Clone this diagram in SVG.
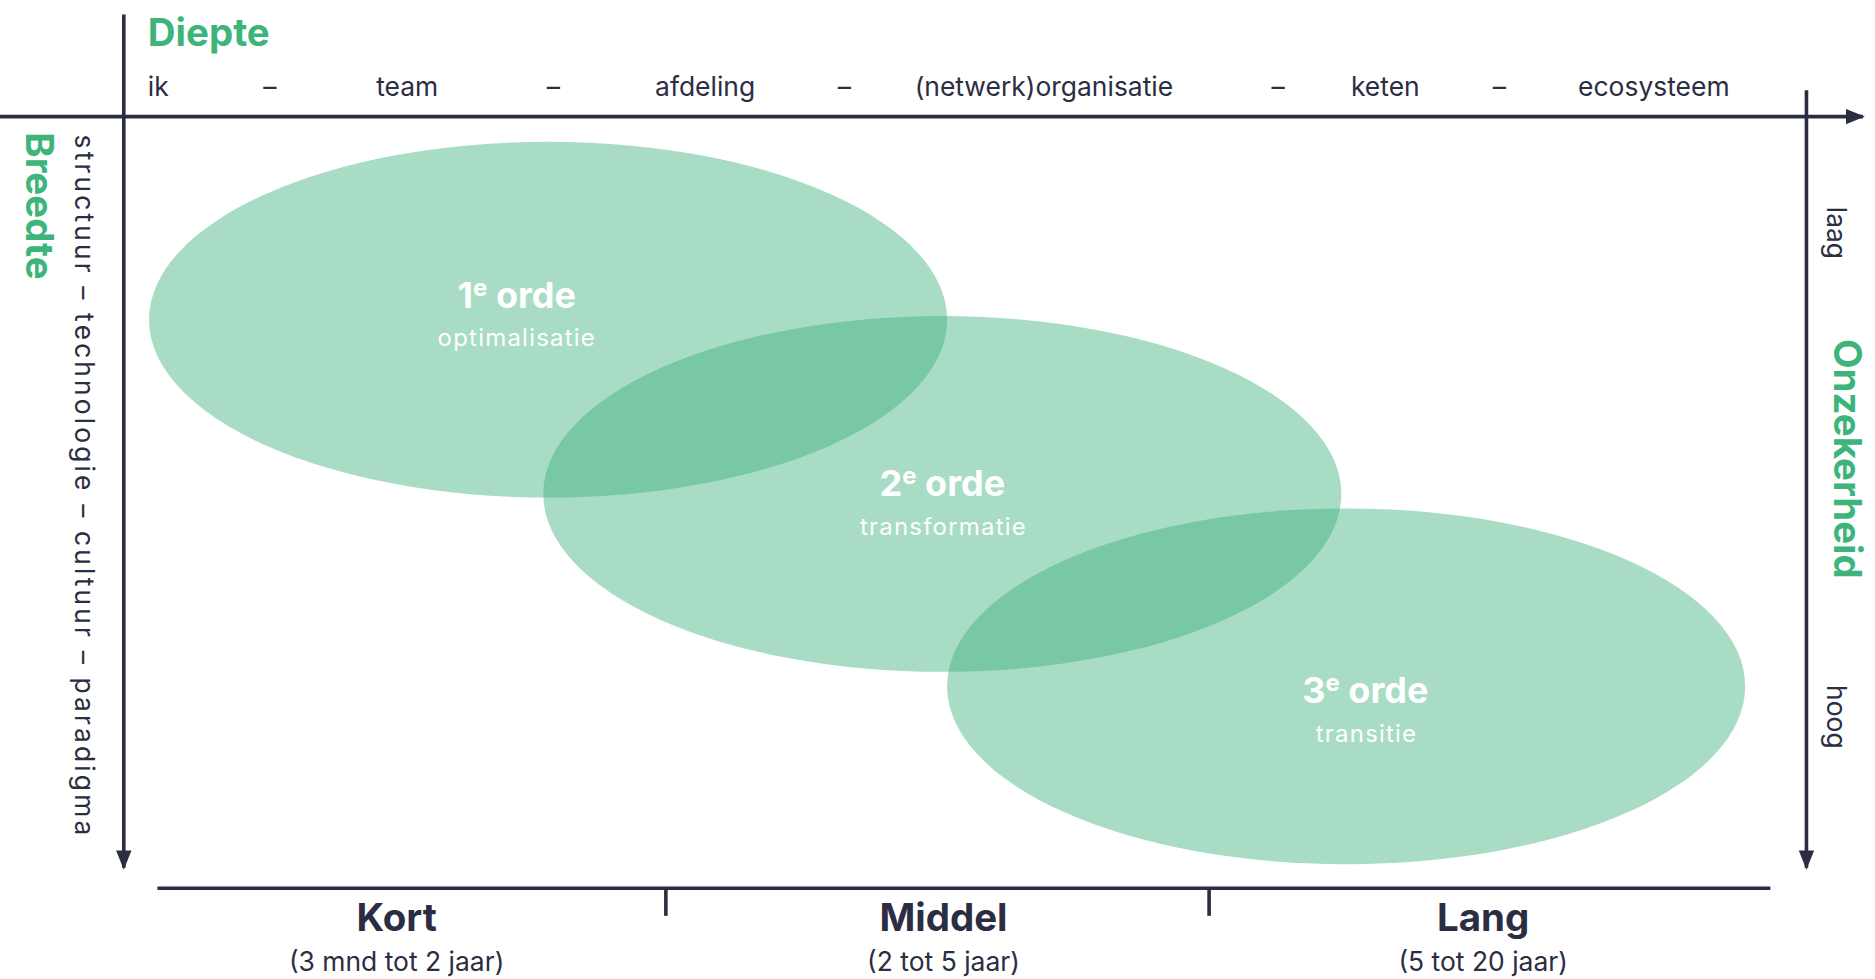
<svg xmlns="http://www.w3.org/2000/svg" width="1875" height="979" viewBox="0 0 1875 979">
<defs>
<style>
.ax{stroke:#2b2d42;stroke-width:3;fill:none}
.el{fill:#3eb17c;fill-opacity:0.45}
.t{font-family:Inter,"Noto Sans",sans-serif;fill:#2b2d42;font-size:22px}
.g{font-family:Inter,"Noto Sans",sans-serif;fill:#3db57a;font-size:32px;font-weight:700}
.w1{font-family:Inter,"Noto Sans",sans-serif;fill:#fff;font-size:30px;font-weight:700;text-anchor:middle}
.w2{font-family:Inter,"Noto Sans",sans-serif;fill:#fff;font-size:20px;letter-spacing:1px;text-anchor:middle}
.b1{font-family:Inter,"Noto Sans",sans-serif;fill:#2b2d42;font-size:32px;font-weight:700;text-anchor:middle}
.b2{font-family:Inter,"Noto Sans",sans-serif;fill:#2b2d42;font-size:22px;text-anchor:middle}
</style>
<marker id="ar" viewBox="0 0 10 10" refX="9" refY="5" markerWidth="6" markerHeight="6" orient="auto" markerUnits="userSpaceOnUse"><path d="M0,0 L10,5 L0,10 z" fill="#2b2d42"/></marker>
<marker id="arr" viewBox="0 0 10 10" refX="9" refY="5" markerWidth="16" markerHeight="16" orient="auto" markerUnits="userSpaceOnUse"><path d="M0,1 L10,5 L0,9 z" fill="#2b2d42"/></marker>
</defs>
<rect width="1875" height="979" fill="#fff"/>
<g transform="scale(1.2019)">
<g id="ellipses">
<g id="e1"><ellipse class="el" cx="456" cy="266" rx="332" ry="148"/><text class="w1" x="430" y="256">1<tspan font-size="20" dy="-10">e</tspan><tspan dy="10"> orde</tspan></text><text class="w2" x="430" y="288">optimalisatie</text></g>
<g id="e2"><ellipse class="el" cx="784" cy="411" rx="332" ry="148"/><text class="w1" x="784" y="413">2<tspan font-size="20" dy="-10">e</tspan><tspan dy="10"> orde</tspan></text><text class="w2" x="785" y="445">transformatie</text></g>
<g id="e3"><ellipse class="el" cx="1120" cy="571" rx="332" ry="148"/><text class="w1" x="1136" y="585">3<tspan font-size="20" dy="-10">e</tspan><tspan dy="10"> orde</tspan></text><text class="w2" x="1137" y="617">transitie</text></g>
</g>
<g id="connectors">
<line class="ax" x1="103" y1="12" x2="103" y2="722" marker-end="url(#arr)"/>
<line class="ax" x1="0" y1="97" x2="1550" y2="97" marker-end="url(#arr)"/>
<line class="ax" x1="1503" y1="75" x2="1503" y2="722" marker-end="url(#arr)"/>
<line class="ax" x1="131" y1="739" x2="1473" y2="739"/>
<line class="ax" x1="554" y1="739" x2="554" y2="762"/>
<line class="ax" x1="1006" y1="739" x2="1006" y2="762"/>
</g>
<g id="top-labels">
<text class="g" x="123" y="38">Diepte</text>
<text class="t" x="123" y="80">ik</text>
<text class="t" x="219" y="80">–</text>
<text class="t" x="313" y="80">team</text>
<text class="t" x="455" y="80">–</text>
<text class="t" x="545" y="80">afdeling</text>
<text class="t" x="697" y="80">–</text>
<text class="t" x="761" y="80">(netwerk)organisatie</text>
<text class="t" x="1058" y="80">–</text>
<text class="t" x="1124" y="80">keten</text>
<text class="t" x="1242" y="80">–</text>
<text class="t" x="1313" y="80">ecosysteem</text>
</g>
<g id="left-labels">
<text class="g" transform="translate(22,110) rotate(90)">Breedte</text>
<text class="t" transform="translate(62,112) rotate(90)" textLength="583" lengthAdjust="spacing">structuur  –  technologie  –  cultuur  –  paradigma</text>
</g>
<g id="right-labels">
<text class="t" transform="translate(1520,172) rotate(90)">laag</text>
<text class="g" transform="translate(1526,282) rotate(90)">Onzekerheid</text>
<text class="t" transform="translate(1520,570) rotate(90)">hoog</text>
</g>
<g id="bottom-labels">
<text class="b1" x="330" y="775">Kort</text><text class="b2" x="330" y="808">(3 mnd tot 2 jaar)</text>
<text class="b1" x="785" y="775">Middel</text><text class="b2" x="785" y="808">(2 tot 5 jaar)</text>
<text class="b1" x="1234" y="775">Lang</text><text class="b2" x="1234" y="808">(5 tot 20 jaar)</text>
</g>
</g>
</svg>
